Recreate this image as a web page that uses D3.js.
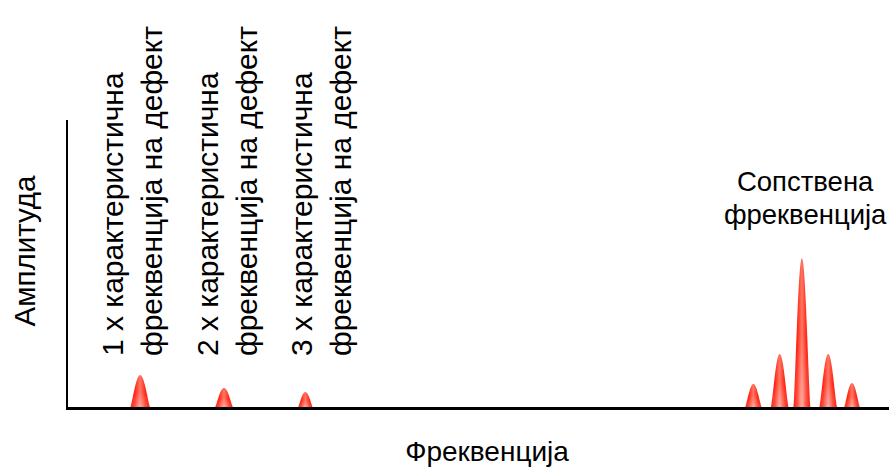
<!DOCTYPE html>
<html>
<head>
<meta charset="utf-8">
<script src="https://cdn.jsdelivr.net/npm/d3@7/dist/d3.min.js"></script>
<style>
  html, body { margin: 0; padding: 0; background: #fff; }
  svg { display: block; }
  text { font-family: "Liberation Sans", Arial, sans-serif; fill: #000; }
</style>
</head>
<body>
<svg id="chart" width="889" height="468"></svg>
<script>
// Spectrum peaks: centre frequency, amplitude and base width (arbitrary units)
const peakFreq  = [8.9, 19.1, 29.0, 83.5, 86.7, 89.4, 92.6, 95.5];
const peakAmp   = [11.5, 7.0, 5.6, 8.4, 18.9, 52.4, 18.9, 8.7];
const peakWidth = [2.5, 2.3, 1.9, 2.1, 2.2, 2.1, 2.2, 2.0];

// Harmonic labels (two lines each) sitting over the first three peaks
const harmonicLine1 = ["1 х карактеристична", "2 х карактеристична", "3 х карактеристична"];
const harmonicLine2 = ["фреквенција на дефект", "фреквенција на дефект", "фреквенција на дефект"];
const harmonicFreq  = [6.8, 18.4, 29.8];

const naturalLabel = ["Сопствена", "фреквенција"];
const naturalFreq  = 89.8;
const xTitle = "Фреквенција";
const yTitle = "Амплитуда";

const svg = d3.select("#chart");
const W = 889;
const margin = { left: 67, right: 0, top: 122 };

const x = d3.scaleLinear().domain([0, 100]).range([margin.left, W - margin.right]);
const y = d3.scaleLinear().domain([0, 100]).range([408, margin.top]);

// Red peak fill: saturated edges, lighter core, paler near the foot
const defs = svg.append("defs");
const grad = defs.append("linearGradient").attr("id", "peakFill")
  .attr("x1", "0").attr("y1", "0").attr("x2", "1").attr("y2", "0");
grad.append("stop").attr("offset", "0%").attr("stop-color", "#ff1a0a");
grad.append("stop").attr("offset", "25%").attr("stop-color", "#ff2a18");
grad.append("stop").attr("offset", "50%").attr("stop-color", "#ff7866");
grad.append("stop").attr("offset", "75%").attr("stop-color", "#ff2a18");
grad.append("stop").attr("offset", "100%").attr("stop-color", "#ff1a0a");

const glow = defs.append("radialGradient").attr("id", "peakGlow")
  .attr("cx", "0.5").attr("cy", "1").attr("r", "0.5");
glow.append("stop").attr("offset", "0%").attr("stop-color", "#fff").attr("stop-opacity", 0.4);
glow.append("stop").attr("offset", "100%").attr("stop-color", "#fff").attr("stop-opacity", 0);

// Bell-shaped outline for one peak
const ts = d3.range(-1, 1.0001, 0.05);
function peakPoints(i) {
  return ts.map(t => ({
    f: peakFreq[i] + t * peakWidth[i] / 2,
    a: peakAmp[i] * Math.pow(Math.max(0, 1 - t * t), 1.5)
  }));
}
const area = d3.area()
  .x(d => x(d.f))
  .y0(y(0))
  .y1(d => y(d.a))
  .curve(d3.curveMonotoneX);

const peaks = svg.append("g").attr("class", "peaks");
peakFreq.forEach((f, i) => {
  const d = area(peakPoints(i));
  peaks.append("path").attr("d", d).attr("fill", "url(#peakFill)");
  peaks.append("path").attr("d", d).attr("fill", "url(#peakGlow)");
});

// Axes: plain lines without ticks
svg.append("line")
  .attr("x1", x(0)).attr("x2", x(0))
  .attr("y1", y(100) - 2).attr("y2", y(0) + 1)
  .attr("stroke", "#000").attr("stroke-width", 2);
svg.append("line")
  .attr("x1", x(0) - 1).attr("x2", x(100))
  .attr("y1", y(0) + 0.5).attr("y2", y(0) + 0.5)
  .attr("stroke", "#000").attr("stroke-width", 3);

// Axis titles
svg.append("text")
  .attr("x", 487).attr("y", 461)
  .attr("text-anchor", "middle").attr("font-size", 28)
  .text(xTitle);
svg.append("text")
  .attr("transform", `translate(35, 251) rotate(-90)`)
  .attr("text-anchor", "middle").attr("font-size", 29.5)
  .text(yTitle);

// Rotated harmonic labels
const lines = [harmonicLine1, harmonicLine2];
harmonicFreq.forEach((f, i) => {
  lines.forEach((arr, j) => {
    svg.append("text")
      .attr("transform", `translate(${x(f) + j * 39}, 356) rotate(-90)`)
      .attr("text-anchor", "start").attr("font-size", 30)
      .text(arr[i]);
  });
});

// Natural frequency label
naturalLabel.forEach((t, j) => {
  svg.append("text")
    .attr("x", x(naturalFreq)).attr("y", 191 + j * 33)
    .attr("text-anchor", "middle").attr("font-size", 27.5)
    .text(t);
});
</script>
</body>
</html>
